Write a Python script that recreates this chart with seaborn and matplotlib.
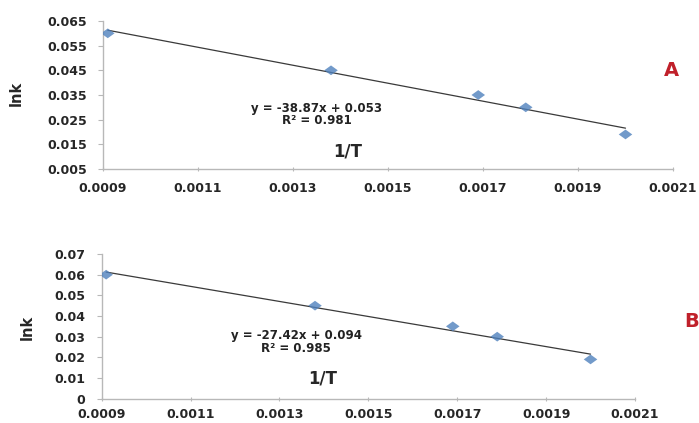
import numpy as np
import pandas as pd
import matplotlib
matplotlib.use("Agg")
import matplotlib.pyplot as plt
import seaborn as sns

# ---- data ----
inv_T = [0.00091, 0.00138, 0.00169, 0.00179, 0.00200]
lnk_A = [0.060, 0.045, 0.035, 0.030, 0.019]
lnk_B = [0.060, 0.045, 0.035, 0.030, 0.019]
eq_A = ["y = -38.87x + 0.053", "R\u00b2 = 0.981"]
eq_B = ["y = -27.42x + 0.094", "R\u00b2 = 0.985"]
yticks_A = [0.005, 0.015, 0.025, 0.035, 0.045, 0.055, 0.065]
yticks_B = [0, 0.01, 0.02, 0.03, 0.04, 0.05, 0.06, 0.07]
xticks = [0.0009, 0.0011, 0.0013, 0.0015, 0.0017, 0.0019, 0.0021]
panel_labels = ["A", "B"]

sns.set_theme(style="white")
plt.rcParams["font.family"] = ["DejaVu Sans"]
plt.rcParams["font.weight"] = "bold"

fig = plt.figure(figsize=(6.99, 4.23), dpi=100)
axA = fig.add_axes([0.1474, 0.6005, 0.8154, 0.3499])
axB = fig.add_axes([0.1455, 0.0575, 0.7629, 0.3420])

diamond = [(-1, 0), (0, 0.72), (1, 0), (0, -0.72), (-1, 0)]
blue = "#4f81bd"
spine_c = "#b8b8b8"

def style(ax, yt, ylim, yfmt, eq, eqpos, xlab, ylab, xpad):
    df = pd.DataFrame({"x": inv_T, "y": yt})
    sns.regplot(data=df, x="x", y="y", ax=ax, ci=None, marker=diamond,
                scatter_kws=dict(s=95, color=blue, edgecolors="none", zorder=3),
                line_kws=dict(color="#3a3a3a", lw=0.9, zorder=2))
    ax.set_xlim(xticks[0], xticks[-1])
    ax.set_xticks(xticks)
    ax.set_xticklabels([f"{v:.4f}" for v in xticks])
    ax.set_yticks(ylim)
    ax.set_yticklabels([yfmt(v) for v in ylim])
    ax.set_ylim(ylim[0], ylim[-1])
    for s in ["top", "right"]:
        ax.spines[s].set_visible(False)
    for s in ["left", "bottom"]:
        ax.spines[s].set_color(spine_c)
        ax.spines[s].set_linewidth(1.0)
    ax.tick_params(axis="y", direction="out", length=3.6, width=0.8, color=spine_c,
                   pad=8, labelsize=9, left=True)
    ax.tick_params(axis="x", direction="inout", length=3, width=0.8, color=spine_c,
                   pad=xpad, labelsize=9, bottom=True)
    for lab in ax.get_xticklabels() + ax.get_yticklabels():
        lab.set_fontweight("bold")
    ax.text(eqpos[0], eqpos[1], eq[0] + "\n" + eq[1], ha="center", va="center",
            multialignment="center", linespacing=0.95, fontsize=8.5,
            fontweight="bold", color="#222222")
    ax.set_xlabel("1/T", fontsize=12, fontweight="bold")
    ax.xaxis.set_label_coords(*xlab)
    ax.xaxis.label.set_va("center")
    ax.set_ylabel("lnk", fontsize=10.5, fontweight="bold")
    ax.yaxis.set_label_coords(*ylab)
    ax.yaxis.label.set_va("center")

style(axA, lnk_A, yticks_A, lambda v: f"{v:.3f}", eq_A,
      (0.00135, 0.0271), (0.43, 0.117), (-0.153, 0.514), 8)
style(axB, lnk_B, yticks_B, lambda v: "0" if v == 0 else f"{v:.2f}", eq_B,
      (0.001338, 0.0274), (0.415, 0.14), (-0.14, 0.49), 5)

fig.text(0.96, 0.8345, panel_labels[0], color="#c0202a", fontsize=14,
         fontweight="bold", ha="center", va="center")
fig.text(0.99, 0.241, panel_labels[1], color="#c0202a", fontsize=14,
         fontweight="bold", ha="center", va="center")

fig.savefig("out.png", dpi=100)
